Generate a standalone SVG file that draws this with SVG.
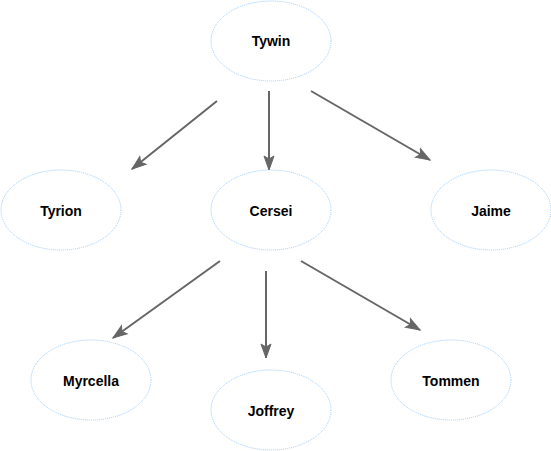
<svg xmlns="http://www.w3.org/2000/svg" width="551" height="451" viewBox="0 0 551 451">
<style>
.n ellipse{fill:#fff;stroke:#99ccff;stroke-width:1;stroke-dasharray:1 1}
.n text{font-family:"Liberation Sans",Arial,sans-serif;font-size:14px;font-weight:bold;fill:#000;text-anchor:middle;dominant-baseline:central}
.e line{stroke:#666;stroke-width:2;marker-end:url(#ah)}
</style>
<defs>
<marker id="ah" markerUnits="userSpaceOnUse" markerWidth="16" markerHeight="14" refX="15" refY="6" orient="auto" viewBox="0 0 16 12">
<path d="M1,1 L15,6 L1,11 L4,6 Z" fill="#666" stroke="#666" stroke-width="1"/>
</marker>
</defs>
<rect width="551" height="451" fill="#fff"/>
<g class="e">
<line x1="217" y1="101" x2="132" y2="169"/>
<line x1="269" y1="91" x2="269" y2="170"/>
<line x1="311" y1="91" x2="430" y2="160"/>
<line x1="220" y1="261" x2="113" y2="338"/>
<line x1="266" y1="271" x2="266" y2="358"/>
<line x1="301" y1="261" x2="420" y2="330"/>
</g>
<g id="tywin" class="n"><ellipse cx="271" cy="41" rx="60" ry="40"/><text x="271" y="41">Tywin</text></g>
<g id="tyrion" class="n"><ellipse cx="61" cy="210" rx="60" ry="40"/><text x="61" y="211">Tyrion</text></g>
<g id="cersei" class="n"><ellipse cx="271" cy="210" rx="60" ry="40"/><text x="271" y="211">Cersei</text></g>
<g id="jaime" class="n"><ellipse cx="491" cy="210" rx="60" ry="40"/><text x="491" y="211">Jaime</text></g>
<g id="myrcella" class="n"><ellipse cx="91" cy="380" rx="60" ry="40"/><text x="91" y="381">Myrcella</text></g>
<g id="joffrey" class="n"><ellipse cx="271" cy="410" rx="60" ry="40"/><text x="271" y="411">Joffrey</text></g>
<g id="tommen" class="n"><ellipse cx="451" cy="380" rx="60" ry="40"/><text x="451" y="381">Tommen</text></g>
</svg>
